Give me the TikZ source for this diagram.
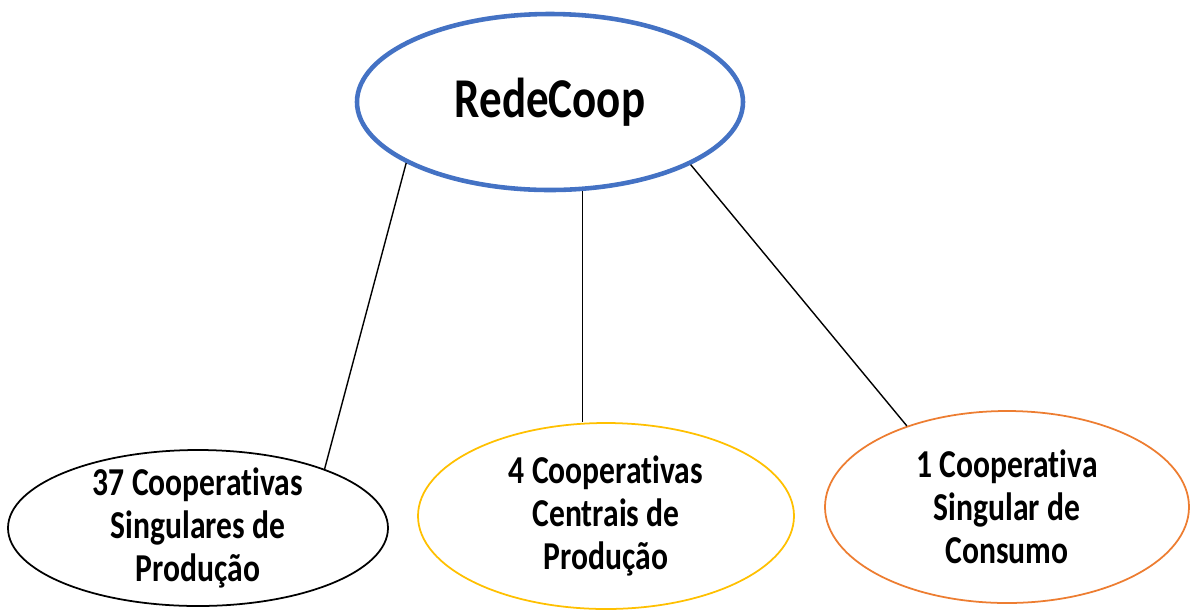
\documentclass[tikz,border=0pt]{standalone}
\usepackage{fontspec}
\setmainfont[FakeStretch=0.8, Ligatures=NoCommon]{Carlito}
\usetikzlibrary{positioning, shapes.geometric}
\definecolor{rcblue}{HTML}{4472C4}
\definecolor{rcgold}{HTML}{FFC000}
\definecolor{rcorange}{HTML}{ED7D31}

\begin{document}
\begin{tikzpicture}[x=0.02cm, y=-0.02cm,
          e/.style={ellipse, draw, fill=white, inner sep=0pt, inner ysep=-1cm, align=center, font=\bfseries\fontsize{22.5}{24.5}\selectfont},
          link/.style={draw=black, line width=0.8pt}]
        \useasboundingbox (0,0) rectangle (1191,610);
        \node[e, draw=rcblue, line width=2.6pt, minimum width=386*0.02cm, minimum height=176*0.02cm, font=\bfseries\fontsize{32}{34}\selectfont] (rc) at (550,102) {RedeCoop};
        \node[e, line width=1pt, minimum width=380*0.02cm, minimum height=156*0.02cm] (sing) at (198,528) {37 Cooperativas\\Singulares de\\Produção};
        \node[e, draw=rcgold, line width=1pt, minimum width=376*0.02cm, minimum height=186*0.02cm] (cent) at (606,516) {4 Cooperativas\\Centrais de\\Produção};
        \node[e, draw=rcorange, line width=1pt, minimum width=364*0.02cm, minimum height=192*0.02cm] (cons) at (1007,507) {1 Cooperativa\\Singular de\\Consumo};
        \draw[link] (rc.203.5) -- (sing.25);
        \draw[link] (rc.290) -- (rc.290 |- cent.north);
        \draw[link] (rc.336.8) -- (cons.141.4);
      \end{tikzpicture}
\end{document}
